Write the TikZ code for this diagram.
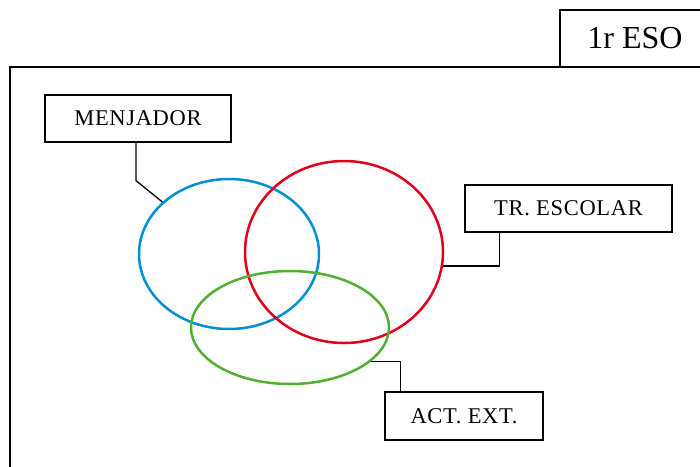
\documentclass[tikz,border=0pt]{standalone}
\usepackage{fontspec}
\setmainfont{Liberation Serif}
\newfontfamily\labelfont[LetterSpace=3]{Liberation Serif}
\usepackage{tikz}
\usetikzlibrary{shapes.geometric,calc}
\definecolor{menblue}{RGB}{0,144,214}
\definecolor{trred}{RGB}{226,0,26}
\definecolor{actgreen}{RGB}{80,176,48}

\begin{document}
\begin{tikzpicture}[x=1pt,y=-1pt,
  box/.style={draw,line width=1.3pt,inner sep=0pt,minimum height=47pt,font=\labelfont\fontsize{22.5}{22.5}\selectfont},
  set/.style={ellipse,draw,line width=2.5pt,inner sep=0pt}]
\useasboundingbox (0,0) rectangle (700,466);
\draw[line width=1.3pt] (10,67) rectangle (720,490);
\node[box,minimum width=150pt,minimum height=57pt,font=\fontsize{32}{32}\selectfont] (curs) at (635,38.5) {1r ESO};
\node[set,menblue,minimum width=180pt,minimum height=150pt] (blue) at (229,254) {};
\node[set,trred,minimum width=198pt,minimum height=182pt] (red) at (344,252) {};
\node[set,actgreen,minimum width=198pt,minimum height=113pt] (green) at (290,327.5) {};
\node[box,minimum width=186pt] (menjador) at (138,118.5) {MENJADOR};
\node[box,minimum width=207pt] (tr) at (568.5,208.5) {TR. ESCOLAR};
\node[box,minimum width=158pt,minimum height=48pt] (act) at (464,416) {ACT. EXT.};
\draw[line width=1.3pt] ($(menjador.south)+(-2,0)$) -- ++(0,38) -- (blue.142);
\draw[line width=1.3pt] ($(tr.south west)+(35,0)$) |- (red.-8);
\draw[line width=1.3pt] ($(act.north west)+(16,0)$) |- (green.-23);
\end{tikzpicture}
\end{document}
